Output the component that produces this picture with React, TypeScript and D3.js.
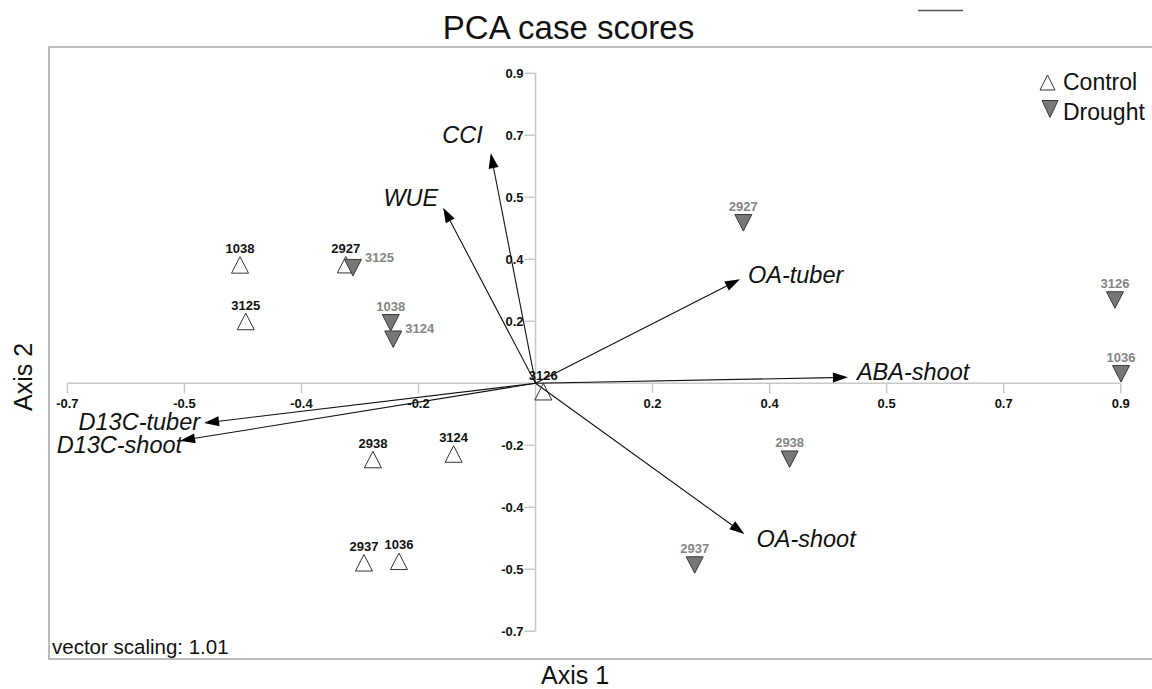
import React from "react";
import * as d3 from "d3";

// Axis ticks (every 0.18 units, labelled to one decimal)
const tickValues = [-0.72, -0.54, -0.36, -0.18, 0.18, 0.36, 0.54, 0.72, 0.9];
const tickLabels = ["-0.7", "-0.5", "-0.4", "-0.2", "0.2", "0.4", "0.5", "0.7", "0.9"];

// Case scores, Control treatment
const controlIds = ["1038", "3125", "2927", "2938", "3124", "2937", "1036", "3126"];
const controlAxis1 = [-0.4545, -0.4457, -0.2918, -0.2501, -0.126, -0.2639, -0.2101, 0.012];
const controlAxis2 = [0.3437, 0.1794, 0.3444, -0.2213, -0.2053, -0.5212, -0.5168, -0.0244];

// Case scores, Drought treatment
const droughtIds = ["3125", "1038", "3124", "2927", "3126", "1036", "2938", "2937"];
const droughtAxis1 = [-0.2808, -0.2227, -0.2189, 0.3196, 0.8912, 0.9005, 0.3908, 0.2448];
const droughtAxis2 = [0.3357, 0.1757, 0.128, 0.466, 0.2419, 0.0276, -0.2204, -0.5276];

// Variable vectors (biplot loadings, vector scaling 1.01)
const vectorNames = ["CCI", "WUE", "OA-tuber", "ABA-shoot", "OA-shoot", "D13C-tuber", "D13C-shoot"];
const vectorAxis1 = [-0.0689, -0.142, 0.3144, 0.4805, 0.3213, -0.5098, -0.5467];
const vectorAxis2 = [0.6678, 0.5099, 0.302, 0.0174, -0.4376, -0.1153, -0.1667];

const legendItems = ["Control", "Drought"];

// Label placement around the vector tips
const vectorLabelPlacement: Record<string, { anchor: string; dx: number; dy: number }> = {
  "CCI": { anchor: "end", dx: -8, dy: -10 },
  "WUE": { anchor: "end", dx: -5, dy: -2 },
  "OA-tuber": { anchor: "start", dx: 8, dy: 4 },
  "ABA-shoot": { anchor: "start", dx: 9, dy: 3 },
  "OA-shoot": { anchor: "start", dx: 12, dy: 13 },
  "D13C-tuber": { anchor: "end", dx: -4, dy: 7 },
  "D13C-shoot": { anchor: "end", dx: 2, dy: 12.6 },
};
// Drought cases whose id sits to the right of the marker
const droughtSideLabels = new Set(["3125", "3124"]);

const W = 1152;
const H = 689;
const FONT = "'Liberation Sans', Arial, Helvetica, sans-serif";
const AXIS_GREY = "#c8c8c8";
const FRAME_GREY = "#a6a6a6";
const DROUGHT_FILL = "#777777";
const DROUGHT_TEXT = "#858585";

const x = d3.scaleLinear().domain([-0.72, 0.9]).range([67.4, 1120.7]);
const y = d3.scaleLinear().domain([-0.72, 0.9]).range([631.3, 73.3]);

const TRI_W = 17;
const TRI_H = 16.5;

function upTri(cx: number, cy: number, w = TRI_W, h = TRI_H) {
  const p = d3.path();
  p.moveTo(cx, cy - h / 2);
  p.lineTo(cx + w / 2, cy + h / 2);
  p.lineTo(cx - w / 2, cy + h / 2);
  p.closePath();
  return p.toString();
}

function downTri(cx: number, cy: number, w = TRI_W, h = TRI_H) {
  const p = d3.path();
  p.moveTo(cx - w / 2, cy - h / 2);
  p.lineTo(cx + w / 2, cy - h / 2);
  p.lineTo(cx, cy + h / 2);
  p.closePath();
  return p.toString();
}

function arrow(x0: number, y0: number, x1: number, y1: number) {
  const dx = x1 - x0;
  const dy = y1 - y0;
  const len = Math.hypot(dx, dy);
  const ux = dx / len;
  const uy = dy / len;
  const headLen = 15;
  const headHalf = 5;
  const bx = x1 - ux * headLen;
  const by = y1 - uy * headLen;
  const nx = -uy;
  const ny = ux;
  const head = d3.path();
  head.moveTo(x1, y1);
  head.lineTo(bx + nx * headHalf, by + ny * headHalf);
  head.lineTo(bx - nx * headHalf, by - ny * headHalf);
  head.closePath();
  return { bx, by, head: head.toString() };
}

export default function App() {
  const x0 = x(0);
  const y0 = y(0);
  const xTickLen = 10;
  const yTickLen = 11;

  return (
    <svg
      width={W}
      height={H}
      viewBox={`0 0 ${W} ${H}`}
      style={{ position: "absolute", left: 0, top: 0, background: "#fff" }}
      fontFamily={FONT}
    >
      <rect x={0} y={0} width={W} height={H} fill="#fff" />

      {/* short rule above the plot frame */}
      <line x1={918} x2={963} y1={10.5} y2={10.5} stroke="#555" strokeWidth={1.5} />

      {/* title */}
      <text x={568.5} y={39} textAnchor="middle" fontSize={33} fill="#111">
        PCA case scores
      </text>

      {/* plot frame (open on the right) */}
      <path
        d={`M${W + 2},47 H49 V659 H${W + 2}`}
        fill="none"
        stroke={FRAME_GREY}
        strokeWidth={1.5}
      />

      {/* axes through the origin */}
      <line x1={x(-0.72)} x2={x(0.9)} y1={y0} y2={y0} stroke={AXIS_GREY} strokeWidth={1.5} />
      <line x1={x0} x2={x0} y1={y(0.9)} y2={y(-0.72)} stroke={AXIS_GREY} strokeWidth={1.5} />

      {tickValues.map((v, i) => (
        <g key={`xt-${i}`}>
          <line x1={x(v)} x2={x(v)} y1={y0} y2={y0 + xTickLen} stroke={AXIS_GREY} strokeWidth={1.5} />
          <text
            x={x(v)}
            y={y0 + 24.5}
            textAnchor="middle"
            fontSize={13}
            fontWeight="bold"
            fill="#111"
          >
            {tickLabels[i]}
          </text>
        </g>
      ))}
      {tickValues.map((v, i) => (
        <g key={`yt-${i}`}>
          <line x1={x0 - yTickLen} x2={x0} y1={y(v)} y2={y(v)} stroke={AXIS_GREY} strokeWidth={1.5} />
          <text
            x={x0 - 12}
            y={y(v) + 4.6}
            textAnchor="end"
            fontSize={13}
            fontWeight="bold"
            fill="#111"
          >
            {tickLabels[i]}
          </text>
        </g>
      ))}

      {/* control cases */}
      {controlIds.map((id, i) => (
        <path
          key={`cm-${i}`}
          d={upTri(x(controlAxis1[i]), y(controlAxis2[i]))}
          fill="#fff"
          stroke="#333"
          strokeWidth={1}
        />
      ))}

      {/* drought cases */}
      {droughtIds.map((id, i) => (
        <path
          key={`dm-${i}`}
          d={downTri(x(droughtAxis1[i]), y(droughtAxis2[i]))}
          fill={DROUGHT_FILL}
          stroke="#3a3a3a"
          strokeWidth={1}
        />
      ))}

      {/* variable vectors */}
      {vectorNames.map((name, i) => {
        const tx = x(vectorAxis1[i]);
        const ty = y(vectorAxis2[i]);
        const a = arrow(x0, y0, tx, ty);
        const pl = vectorLabelPlacement[name];
        return (
          <g key={`v-${i}`}>
            <line x1={x0} y1={y0} x2={a.bx} y2={a.by} stroke="#111" strokeWidth={1.1} />
            <path d={a.head} fill="#000" />
            <text
              x={tx + pl.dx}
              y={ty + pl.dy}
              textAnchor={pl.anchor as any}
              fontSize={23.5}
              fontStyle="italic"
              fill="#111"
            >
              {name}
            </text>
          </g>
        );
      })}

      {/* case labels */}
      {controlIds.map((id, i) => (
        <text
          key={`cl-${i}`}
          x={x(controlAxis1[i])}
          y={y(controlAxis2[i]) - 12}
          textAnchor="middle"
          fontSize={13}
          fontWeight="bold"
          fill="#111"
        >
          {id}
        </text>
      ))}
      {droughtIds.map((id, i) => {
        const side = droughtSideLabels.has(id);
        return (
          <text
            key={`dl-${i}`}
            x={x(droughtAxis1[i]) + (side ? 12 : 0)}
            y={y(droughtAxis2[i]) + (side ? -6 : -12)}
            textAnchor={side ? "start" : "middle"}
            fontSize={13}
            fontWeight="bold"
            fill={DROUGHT_TEXT}
          >
            {id}
          </text>
        );
      })}

      {/* legend */}
      <g>
        <path d={upTri(1047.5, 82.5, 15, 15)} fill="#fff" stroke="#333" strokeWidth={1} />
        <text x={1063} y={89.5} fontSize={23} fill="#111">
          {legendItems[0]}
        </text>
        <path d={downTri(1050, 109, 16, 17)} fill={DROUGHT_FILL} stroke="#3a3a3a" strokeWidth={1} />
        <text x={1063} y={119.5} fontSize={23} fill="#111">
          {legendItems[1]}
        </text>
      </g>

      {/* footnote */}
      <text x={52} y={654} fontSize={20.5} fill="#111">
        vector scaling: 1.01
      </text>

      {/* axis titles */}
      <text x={575} y={684} textAnchor="middle" fontSize={25} fill="#111">
        Axis 1
      </text>
      <text
        transform={`translate(32,377) rotate(-90)`}
        textAnchor="middle"
        fontSize={25}
        fill="#111"
      >
        Axis 2
      </text>
    </svg>
  );
}
